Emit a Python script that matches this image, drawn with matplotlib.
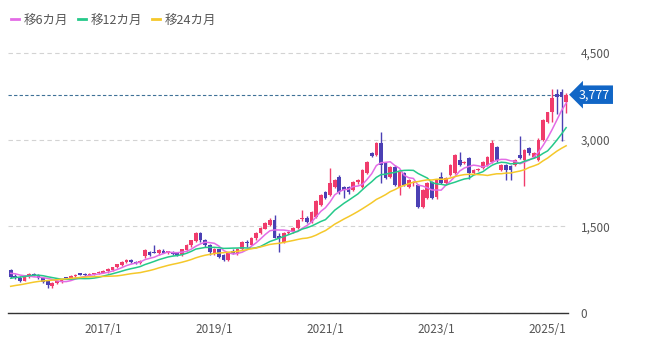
import matplotlib
matplotlib.use('Agg')
import matplotlib.pyplot as plt
import matplotlib.transforms as mtransforms
from matplotlib.lines import Line2D
import numpy as np
import pandas as pd

plt.rcParams['font.family'] = ['Noto Sans CJK JP', 'DejaVu Sans']

# ---------------- data (monthly OHLC, 2015/5 - 2025/5) ----------------
start_month = '2015-05'
# closes before the first visible month (only used for the moving averages)
pre_close = [250, 260, 270, 280, 290, 300, 310, 320, 330, 340, 360, 380,
             420, 450, 480, 500, 520, 550, 600, 650, 690, 700, 720, 740]

open_ = [740, 640, 600, 560, 630, 680, 660, 600, 560, 460, 520, 540, 610, 600, 640, 680, 670, 660, 675, 690,
         700, 720, 750, 790, 830, 880, 920, 890, 860, 980, 1060, 1060, 1030, 1080, 1040, 1060, 1030, 1000, 1090, 1170,
         1250, 1380, 1260, 1180, 1030, 1100, 1010, 920, 1080, 1030, 1110, 1230, 1180, 1290, 1380, 1460, 1530, 1610, 1330, 1230,
         1380, 1400, 1470, 1620, 1650, 1570, 1660, 1870, 2090, 2040, 2180, 2350, 2180, 2180, 2130, 2270, 2180, 2420, 2770, 2730,
         2940, 2600, 2350, 2530, 2180, 2420, 2180, 2250, 2215, 1830, 1990, 2270, 2000, 2350, 2250, 2390, 2420, 2650, 2590, 2680,
         2420, 2470, 2510, 2560, 2610, 2870, 2470, 2560, 2540, 2560, 2730, 2650, 2850, 2700, 2650, 3000, 3300, 3470, 3790, 3830,
         3650]
high = [760, 680, 640, 640, 700, 700, 670, 610, 570, 530, 560, 590, 630, 650, 670, 700, 690, 690, 700, 720,
        740, 770, 800, 850, 900, 940, 930, 900, 920, 1110, 1080, 1170, 1110, 1100, 1080, 1070, 1040, 1110, 1190, 1270,
        1400, 1400, 1280, 1200, 1120, 1110, 1020, 1060, 1100, 1120, 1250, 1260, 1320, 1400, 1480, 1570, 1640, 1700, 1380, 1400,
        1420, 1490, 1630, 1790, 1670, 1760, 1960, 2060, 2110, 2510, 2320, 2380, 2200, 2200, 2290, 2320, 2490, 2630, 2790, 2960,
        3130, 2620, 2550, 2560, 2460, 2440, 2320, 2290, 2240, 2150, 2270, 2290, 2320, 2440, 2360, 2580, 2750, 2790, 2630, 2700,
        2490, 2510, 2630, 2720, 2990, 2890, 2580, 2580, 2560, 2670, 3070, 2840, 2880, 2790, 3020, 3360, 3480, 3880, 3880, 3870,
        3800]
low = [600, 580, 530, 550, 610, 640, 580, 520, 440, 440, 500, 520, 580, 590, 620, 650, 640, 650, 660, 680,
       690, 700, 730, 770, 810, 860, 860, 850, 840, 960, 990, 1030, 1010, 1030, 1020, 1000, 990, 990, 1080, 1150,
       1230, 1230, 1150, 1000, 1000, 950, 900, 900, 1020, 1010, 1090, 1150, 1170, 1270, 1360, 1450, 1510, 1290, 1060, 1210,
       1360, 1380, 1450, 1600, 1550, 1550, 1640, 1850, 1970, 2020, 2160, 2060, 1990, 2060, 2110, 2240, 2160, 2400, 2700, 2710,
       2250, 2320, 2330, 2200, 2040, 2190, 2160, 2200, 1810, 1810, 1970, 1970, 1980, 2230, 2230, 2370, 2400, 2540, 2570, 2320,
       2400, 2450, 2490, 2540, 2590, 2620, 2450, 2300, 2300, 2540, 2660, 2200, 2740, 2680, 2630, 2980, 3280, 3300, 3440, 2970,
       3460]
close = [620, 600, 560, 630, 680, 660, 600, 540, 480, 520, 545, 575, 600, 640, 650, 665, 660, 680, 690, 705,
         730, 760, 790, 840, 880, 920, 880, 870, 900, 1090, 1010, 1040, 1090, 1040, 1070, 1020, 1000, 1100, 1170, 1260,
         1380, 1260, 1180, 1055, 1100, 970, 920, 1040, 1040, 1110, 1230, 1210, 1300, 1385, 1470, 1560, 1610, 1300, 1290, 1380,
         1400, 1470, 1610, 1650, 1570, 1745, 1935, 2040, 1990, 2250, 2300, 2090, 2130, 2090, 2270, 2300, 2470, 2610, 2720, 2940,
         2560, 2340, 2530, 2215, 2440, 2215, 2300, 2270, 1830, 2130, 2250, 1990, 2300, 2250, 2340, 2560, 2730, 2560, 2610, 2420,
         2470, 2490, 2610, 2700, 2940, 2650, 2560, 2480, 2470, 2650, 2680, 2820, 2770, 2770, 3000, 3340, 3470, 3720, 3740, 3740,
         3777]

last_price = 3777
ma_windows = [6, 12, 24]
ma_labels = ['移6カ月', '移12カ月', '移24カ月']
ma_colors = ['#e36ce6', '#25c98a', '#f5c82a']
y_ticks = [0, 1500, 3000, 4500]
x_tick_labels = ['2017/1', '2019/1', '2021/1', '2023/1', '2025/1']

UP = '#f03c6c'
DOWN = '#4b40b4'

# ---------------- figure ----------------
periods = pd.period_range(start_month, periods=len(close), freq='M')
labels_all = [f'{p.year}/{p.month}' for p in periods]
xi = np.arange(len(close))

fig = plt.figure(figsize=(6.55, 3.48), dpi=100)
ax = fig.add_axes([8 / 655, 35 / 348, 560 / 655, 273 / 348])

o = np.array(open_, float)
c = np.array(close, float)
h = np.array(high, float)
l = np.array(low, float)
up = c >= o
cols = np.where(up, UP, DOWN)

ax.vlines(xi, l, h, colors=cols, lw=1.0, zorder=3)
body_bot = np.minimum(o, c)
body_h = np.maximum(np.abs(c - o), 20)
ax.bar(xi, body_h, bottom=body_bot, width=0.8, color=cols, edgecolor='none', zorder=4)

full = pd.Series(pre_close + close, dtype=float)
n_pre = len(pre_close)
for w, lab, col in zip(ma_windows, ma_labels, ma_colors):
    ma = full.rolling(w).mean().values[n_pre:]
    ax.plot(xi, ma, color=col, lw=1.1, zorder=5, label=lab)

ax.set_xlim(-0.58, 120.4)
ax.set_ylim(0, 273 / 0.0578)

# grid and axes
ax.set_yticks(y_ticks)
ax.set_yticklabels([f'{v:,}' for v in y_ticks])
ax.yaxis.tick_right()
ax.yaxis.grid(True, ls=(0, (4, 3)), color='#d3d3d3', lw=0.8)
ax.set_axisbelow(True)
for s in ['top', 'left', 'right']:
    ax.spines[s].set_visible(False)
ax.spines['bottom'].set_color('#333333')
ax.spines['bottom'].set_linewidth(1.0)
ax.tick_params(axis='y', length=0, pad=9, labelsize=8.5, labelcolor='#555555')
xt = [labels_all.index(t) for t in x_tick_labels]
ax.set_xticks(xt)
ax.set_xticklabels(x_tick_labels)
ax.tick_params(axis='x', length=0, pad=7, labelsize=8.5, labelcolor='#555555')

# current price line and tag
ax.axhline(last_price, ls=(0, (3, 2)), color='#3f7197', lw=0.8, zorder=2)
trans = mtransforms.blended_transform_factory(ax.transAxes, ax.transData)
ax.annotate(f'{last_price:,}', xy=(1.0, last_price), xycoords=trans,
            xytext=(8, 0), textcoords='offset points', ha='left', va='center',
            color='white', fontsize=9,
            bbox=dict(boxstyle='larrow,pad=0.22', fc='#1166c6', ec='none'),
            annotation_clip=False)

# legend
handles = [Line2D([0], [0], color=col, lw=2) for col in ma_colors]
fig.legend(handles, ma_labels, loc='center left', bbox_to_anchor=(0.0, 1 - 20 / 348),
           ncol=3, frameon=False, handlelength=0.6, handletextpad=0.4,
           columnspacing=0.8, fontsize=9, labelcolor='#555555')

fig.savefig('out.png', dpi=100)
